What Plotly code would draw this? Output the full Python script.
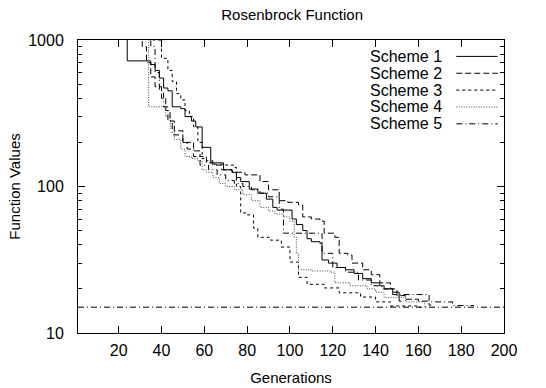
import plotly.graph_objects as go

# Best function value per generation (step curves), five schemes
gen_1 = [1, 24, 35, 37, 39, 41, 43, 45, 49, 51, 54, 56, 59, 63, 69, 73, 75, 77, 81, 85, 89, 92, 94,
         101, 103, 106, 108, 110, 114, 115, 118, 122, 126, 130, 134, 138, 142, 144, 148, 151, 152]
val_1 = [3000, 720, 680, 620, 550, 470, 450, 350, 340, 300, 280, 255, 185, 145, 130, 125, 115, 108, 96, 90, 82, 72, 69,
         60, 55, 50, 44, 42, 41, 31.5, 30, 28, 27, 25.5, 23.5, 22, 21, 20, 19, 16.5, 16.5]

gen_2 = [1, 31, 33, 35, 37, 40, 42, 44, 46, 50, 55, 58, 61, 64, 68, 73, 79, 86, 90, 95, 99, 104, 106,
         110, 114, 116, 121, 123, 127, 129, 134, 138, 142, 147, 150, 154, 160, 165, 166]
val_2 = [3000, 900, 700, 560, 480, 400, 330, 280, 240, 200, 175, 160, 150, 140, 130, 125, 120, 108, 95, 80, 78, 75, 62,
         60, 58, 48, 45, 35, 34, 30, 27, 25, 22, 20, 18, 17, 16.5, 15.5, 15.5]

gen_3 = [1, 36, 40, 43, 45, 47, 49, 51, 53, 55, 57, 59, 61, 64, 70, 74, 75, 77, 80, 83, 85, 91, 96,
         100, 104, 108, 116, 123, 133, 140, 147, 160, 161]
val_3 = [3000, 1000, 750, 620, 520, 430, 390, 330, 300, 255, 200, 155, 145, 142, 140, 135, 100, 66, 64, 52, 45, 43, 38.6,
         30.5, 24, 21.5, 20.3, 18.8, 17.6, 16.3, 15.3, 15.05, 15.05]

gen_4 = [1, 34, 42, 44, 46, 49, 51, 54, 57, 59, 61, 64, 67, 70, 74, 78, 82, 86, 90, 93, 97, 100, 102,
         103, 104, 110, 119, 121, 128, 136, 140, 144, 154, 163, 164]
val_4 = [3000, 350, 300, 250, 210, 180, 160, 155, 150, 130, 125, 115, 105, 100, 95, 88, 80, 72, 68, 65, 62, 58, 45,
         35, 27, 26.5, 26, 22, 21, 20, 19, 17.5, 16.3, 15.1, 15.1]

gen_5 = [1, 35, 37, 39, 41, 43, 45, 50, 52, 55, 58, 62, 66, 70, 74, 78, 82, 86, 90, 95, 97, 114,
         115, 120, 126, 132, 138, 143, 148, 165, 176, 185, 186]
val_5 = [3000, 900, 600, 450, 350, 280, 225, 200, 180, 160, 140, 130, 120, 110, 105, 100, 95, 90, 85, 70, 48, 48,
         35, 28, 26, 23, 21, 20, 18.3, 16.3, 15.4, 15.4, 15.4]

# Horizontal target level across all generations
target_gen = [1, 200]
target_val = [15, 15]

# Axis ticks
x_ticks = [20, 40, 60, 80, 100, 120, 140, 160, 180, 200]
y_ticks = [10, 100, 1000]
y_minor = [20, 30, 40, 50, 60, 70, 80, 90, 200, 300, 400, 500, 600, 700, 800, 900]

names = ["Scheme 1", "Scheme 2", "Scheme 3", "Scheme 4", "Scheme 5"]
gens = [gen_1, gen_2, gen_3, gen_4, gen_5]
vals = [val_1, val_2, val_3, val_4, val_5]
dashes = ["solid", "6px,3px", "3px,3px", "1px,1.5px", "6px,3px,1px,3px"]
colors = ["#000000", "#000000", "#000000", "#444444", "#000000"]

FONT = "Liberation Sans, Arial, sans-serif"

fig = go.Figure()
for g, v, name, dash, col in zip(gens, vals, names, dashes, colors):
    fig.add_trace(go.Scatter(x=g, y=v, mode="lines", name=name, showlegend=False,
                             line=dict(color=col, width=1, dash=dash, shape="hv")))

fig.add_trace(go.Scatter(x=target_gen, y=target_val, mode="lines", showlegend=False,
                         line=dict(color="#000000", width=1, dash="6px,3px,1px,3px")))

# Key: label text followed by a line sample, stacked top-right
key_top = 0.944
key_step = 0.0575
for i, (name, dash, col) in enumerate(zip(names, dashes, colors)):
    yk = key_top - i * key_step
    fig.add_annotation(x=0.858, y=yk, xref="paper", yref="paper", text=name, showarrow=False,
                       xanchor="right", yanchor="middle", font=dict(family=FONT, size=16, color="black"))
    fig.add_shape(type="line", xref="paper", yref="paper", x0=0.888, x1=0.985, y0=yk, y1=yk,
                  line=dict(color=col, width=1, dash=dash))

fig.update_layout(
    template="none",
    width=546, height=388,
    margin=dict(l=78, r=42, t=40, b=55),
    paper_bgcolor="white", plot_bgcolor="white",
    font=dict(family=FONT, size=16, color="black"),
    title=dict(text="Rosenbrock Function", x=0.535, xanchor="center", y=0.962, yanchor="middle",
               font=dict(family=FONT, size=15)),
)
fig.update_xaxes(range=[1, 200], tickvals=x_ticks, automargin=False,
                 ticks="inside", ticklen=7, tickwidth=1, tickcolor="black",
                 showline=True, linecolor="black",
                 linewidth=1, mirror="ticks", showgrid=False, zeroline=False,
                 title=dict(text="Generations", standoff=14, font=dict(size=15)),
                 tickfont=dict(size=16), ticklabelstandoff=3)
fig.update_yaxes(type="log", range=[1, 3], tickvals=y_ticks, ticktext=[str(t) for t in y_ticks],
                 automargin=False,
                 ticks="inside", ticklen=7, tickcolor="black", tickwidth=1,
                 showline=True, linecolor="black",
                 linewidth=1, mirror="ticks", showgrid=False, zeroline=False,
                 minor=dict(ticks="inside", ticklen=4, tickwidth=1, tickcolor="black", showgrid=False,
                            tickvals=y_minor),
                 title=dict(text="Function Values", standoff=3, font=dict(size=15)),
                 tickfont=dict(size=16), ticklabelstandoff=10)

fig.write_html("out.html")
